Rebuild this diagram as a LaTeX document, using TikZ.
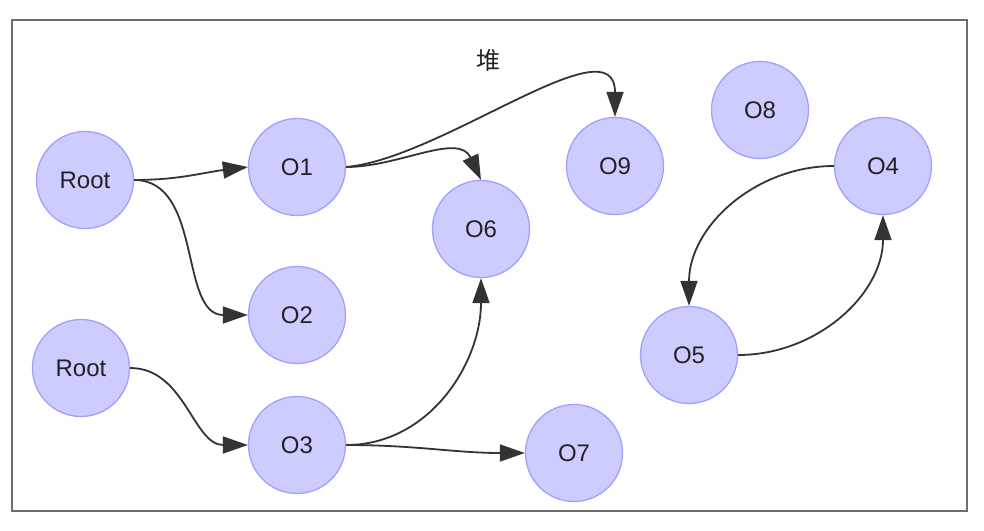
\documentclass[tikz,border=0pt]{standalone}
\usepackage{fontspec}
\setmainfont{Liberation Sans}
\newfontfamily\cjk{Noto Sans CJK SC}
\usetikzlibrary{arrows.meta}
\definecolor{nodefill}{RGB}{204,204,255}
\definecolor{nodeline}{RGB}{160,160,255}
\definecolor{edgecol}{RGB}{51,51,51}
\definecolor{txt}{RGB}{34,34,34}
\definecolor{framecol}{RGB}{110,110,110}
\tikzset{
  obj/.style={circle, fill=nodefill, draw=nodeline, line width=1.3pt, minimum size=97pt, inner sep=0pt,
    text=txt, font=\fontsize{24}{28}\selectfont},
  edge/.style={draw=edgecol, line width=1.8pt, -{Triangle[length=25pt,width=17pt]}},
  frame/.style={draw=framecol, line width=2pt}
}
\begin{document}
\begin{tikzpicture}[x=1pt,y=-1pt]
\useasboundingbox (0,0) rectangle (984,530);
\draw[frame] (12,20) rectangle (967,511);
\node[text=txt, font=\cjk\fontsize{24}{28}\selectfont] (title) at (488,60) {堆};
\node[obj] (r1) at (85,180) {Root};
\node[obj] (o1) at (297,167) {O1};
\node[obj] (o2) at (297,315) {O2};
\node[obj] (r2) at (81,368) {Root};
\node[obj] (o3) at (297,445) {O3};
\node[obj] (o6) at (481,229) {O6};
\node[obj] (o9) at (615,166) {O9};
\node[obj] (o8) at (760,110) {O8};
\node[obj] (o4) at (883,166) {O4};
\node[obj] (o5) at (689,355) {O5};
\node[obj] (o7) at (574,453) {O7};
\draw[edge] (r1.east) to[out=0,in=187] (o1.west);
\draw[edge] (r1.east) to[out=0,in=180] (o2.west);
\draw[edge] (o1.east) to[out=0,in=115] (o6.north);
\draw[edge] (o1.east) to[out=5,in=90,looseness=0.9] (o9.north);
\draw[edge] (r2.east) to[out=0,in=180] (o3.west);
\draw[edge] (o3.east) to[out=0,in=-90] (o6.south);
\draw[edge] (o3.east) to[out=0,in=180] (o7.west);
\draw[edge] (o4.west) to[out=180,in=90] (o5.north);
\draw[edge] (o5.east) to[out=0,in=-90] (o4.south);
\end{tikzpicture}
\end{document}
